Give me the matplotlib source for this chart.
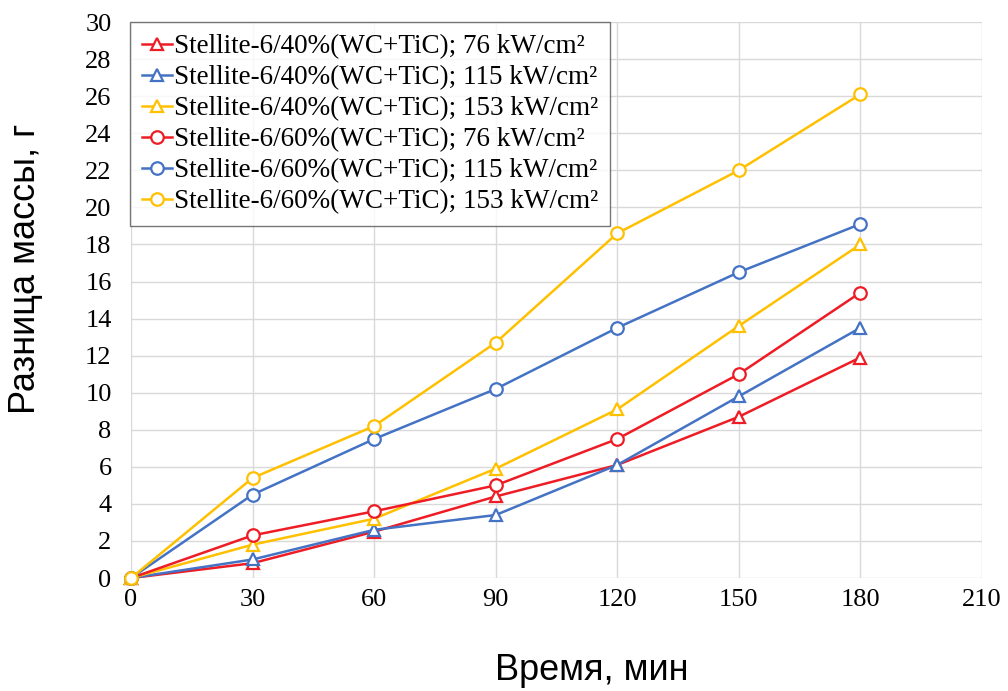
import numpy as np
import matplotlib.pyplot as plt

# Time, min
t = [0, 30, 60, 90, 120, 150, 180]

# Mass difference, g
s40_76 = [0, 0.8, 2.5, 4.4, 6.1, 8.7, 11.9]
s40_115 = [0, 1.0, 2.6, 3.4, 6.1, 9.8, 13.5]
s40_153 = [0, 1.8, 3.2, 5.9, 9.1, 13.6, 18.0]
s60_76 = [0, 2.3, 3.6, 5.0, 7.5, 11.0, 15.4]
s60_115 = [0, 4.5, 7.5, 10.2, 13.5, 16.5, 19.1]
s60_153 = [0, 5.4, 8.2, 12.7, 18.6, 22.0, 26.1]

labels = ['Stellite-6/40%(WC+TiC); 76 kW/cm²',
          'Stellite-6/40%(WC+TiC); 115 kW/cm²',
          'Stellite-6/40%(WC+TiC); 153 kW/cm²',
          'Stellite-6/60%(WC+TiC); 76 kW/cm²',
          'Stellite-6/60%(WC+TiC); 115 kW/cm²',
          'Stellite-6/60%(WC+TiC); 153 kW/cm²']

red = '#EE1C25'
blue = '#4472C4'
yellow = '#FFC000'

series = [(s40_76, red, '^'), (s40_115, blue, '^'), (s40_153, yellow, '^'),
          (s60_76, red, 'o'), (s60_115, blue, 'o'), (s60_153, yellow, 'o')]

fig = plt.figure(figsize=(10.08, 6.91), dpi=100)
ax = fig.add_axes([0.130, 0.1635, 0.844, 0.8045])

for (y, c, m), lab in zip(series, labels):
    ax.plot(t, y, color=c, marker=m, markersize=9, markerfacecolor='white',
            markeredgewidth=1.6, linewidth=1.8, label=lab, clip_on=False)

ax.set_xlim(0, 210)
ax.set_ylim(0, 30)
ax.set_xticks(np.arange(0, 211, 30))
ax.set_yticks(np.arange(0, 31, 2))
ax.grid(True, color='#D9D9D9', linewidth=1.0)
ax.set_axisbelow(True)
for sp in ax.spines.values():
    sp.set_visible(False)
ax.tick_params(length=0, labelsize=19)
ax.tick_params(axis='y', pad=14)
ax.tick_params(axis='x', pad=8)
for lbl in ax.get_xticklabels() + ax.get_yticklabels():
    lbl.set_family('Liberation Serif')

ax.set_xlabel('Время, мин', family='Liberation Sans', fontsize=26)
ax.set_ylabel('Разница массы, г', family='Liberation Sans', fontsize=26)
ax.xaxis.set_label_coords(0.542, -0.135)
ax.yaxis.set_label_coords(-0.104, 0.557)

leg = ax.legend(loc='upper left', bbox_to_anchor=(-0.001, 1.0),
                prop={'family': 'Liberation Serif', 'size': 19.5},
                frameon=True, fancybox=False, edgecolor='#555555',
                handlelength=1.1, handletextpad=0.05, labelspacing=0.22,
                borderpad=0.45, borderaxespad=0)
leg.get_frame().set_linewidth(1.0)

fig.savefig('out.png', dpi=100)
